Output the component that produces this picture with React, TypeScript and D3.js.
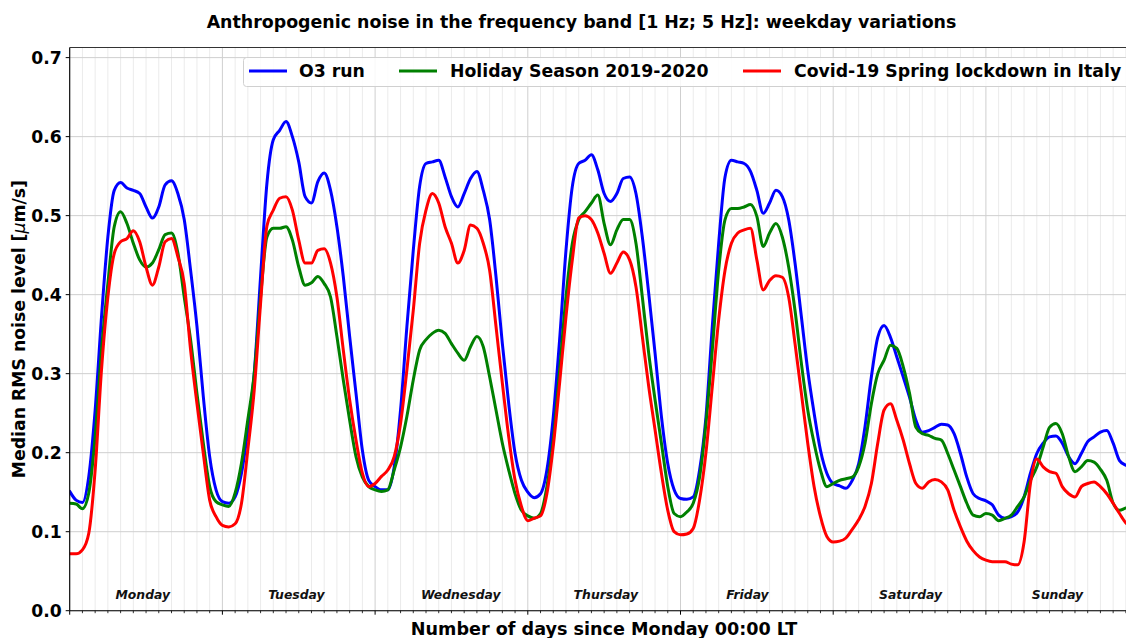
import React from "react";
import * as d3 from "d3";

const dayNames = ["Monday", "Tuesday", "Wednesday", "Thursday", "Friday", "Saturday", "Sunday"];
const yTicks = [0.0, 0.1, 0.2, 0.3, 0.4, 0.5, 0.6, 0.7];
const seriesNames = ["O3 run", "Holiday Season 2019-2020", "Covid-19 Spring lockdown in Italy"];

// hourly values, hour 0..168 since Monday 00:00
const o3Run = [
  0.151, 0.140, 0.137, 0.170, 0.254, 0.372, 0.473, 0.532, 0.542, 0.535, 0.532, 0.528,
  0.511, 0.497, 0.511, 0.539, 0.544, 0.528, 0.495, 0.431, 0.360, 0.271, 0.195, 0.153,
  0.138, 0.136, 0.144, 0.174, 0.229, 0.300, 0.423, 0.541, 0.596, 0.608, 0.619, 0.600,
  0.568, 0.524, 0.516, 0.543, 0.554, 0.532, 0.486, 0.423, 0.347, 0.275, 0.203, 0.165,
  0.157, 0.153, 0.153, 0.182, 0.254, 0.360, 0.456, 0.537, 0.566, 0.568, 0.570, 0.549,
  0.524, 0.511, 0.528, 0.547, 0.556, 0.532, 0.495, 0.423, 0.338, 0.262, 0.199, 0.165,
  0.150, 0.143, 0.148, 0.178, 0.245, 0.343, 0.456, 0.537, 0.566, 0.570, 0.577, 0.558,
  0.528, 0.518, 0.528, 0.547, 0.549, 0.528, 0.473, 0.402, 0.326, 0.246, 0.186, 0.153,
  0.142, 0.141, 0.144, 0.178, 0.245, 0.360, 0.465, 0.549, 0.570, 0.568, 0.566, 0.556,
  0.532, 0.503, 0.516, 0.532, 0.524, 0.495, 0.440, 0.372, 0.304, 0.250, 0.203, 0.174,
  0.161, 0.158, 0.155, 0.165, 0.186, 0.233, 0.296, 0.346, 0.361, 0.346, 0.321, 0.296,
  0.270, 0.241, 0.226, 0.228, 0.232, 0.236, 0.235, 0.224, 0.199, 0.169, 0.148, 0.142,
  0.139, 0.134, 0.121, 0.117, 0.119, 0.125, 0.144, 0.174, 0.199, 0.212, 0.220, 0.221,
  0.212, 0.195, 0.186, 0.199, 0.214, 0.220, 0.226, 0.228, 0.212, 0.190, 0.184, 0.180,
  0.176,
];

const holidaySeason = [
  0.136, 0.135, 0.129, 0.149, 0.220, 0.330, 0.414, 0.486, 0.505, 0.490, 0.465, 0.444,
  0.435, 0.440, 0.457, 0.476, 0.478, 0.453, 0.397, 0.343, 0.275, 0.212, 0.157, 0.138,
  0.134, 0.132, 0.149, 0.187, 0.242, 0.300, 0.397, 0.473, 0.484, 0.484, 0.486, 0.469,
  0.435, 0.412, 0.415, 0.423, 0.414, 0.397, 0.347, 0.292, 0.241, 0.195, 0.169, 0.157,
  0.153, 0.151, 0.153, 0.178, 0.207, 0.246, 0.292, 0.330, 0.343, 0.351, 0.355, 0.351,
  0.338, 0.326, 0.317, 0.334, 0.347, 0.334, 0.296, 0.254, 0.212, 0.178, 0.148, 0.127,
  0.120, 0.117, 0.123, 0.157, 0.216, 0.304, 0.397, 0.465, 0.495, 0.505, 0.516, 0.526,
  0.490, 0.463, 0.482, 0.495, 0.495, 0.465, 0.397, 0.326, 0.267, 0.212, 0.157, 0.123,
  0.119, 0.125, 0.136, 0.169, 0.237, 0.330, 0.431, 0.495, 0.509, 0.509, 0.511, 0.514,
  0.499, 0.461, 0.478, 0.490, 0.473, 0.435, 0.380, 0.313, 0.254, 0.212, 0.178, 0.157,
  0.161, 0.165, 0.167, 0.169, 0.182, 0.212, 0.262, 0.300, 0.317, 0.336, 0.332, 0.309,
  0.275, 0.232, 0.224, 0.222, 0.218, 0.216, 0.199, 0.178, 0.157, 0.136, 0.121, 0.119,
  0.123, 0.121, 0.114, 0.117, 0.121, 0.132, 0.144, 0.165, 0.182, 0.207, 0.232, 0.237,
  0.224, 0.195, 0.176, 0.182, 0.190, 0.188, 0.179, 0.165, 0.136, 0.127, 0.130, 0.131,
  0.131,
];

const covidLockdown = [
  0.072, 0.072, 0.077, 0.098, 0.178, 0.305, 0.397, 0.452, 0.467, 0.471, 0.481, 0.467,
  0.435, 0.412, 0.435, 0.467, 0.471, 0.448, 0.414, 0.330, 0.262, 0.199, 0.140, 0.119,
  0.108, 0.106, 0.110, 0.136, 0.204, 0.279, 0.389, 0.487, 0.507, 0.522, 0.524, 0.507,
  0.469, 0.440, 0.440, 0.456, 0.458, 0.440, 0.397, 0.330, 0.267, 0.216, 0.174, 0.157,
  0.161, 0.170, 0.178, 0.195, 0.237, 0.305, 0.380, 0.465, 0.507, 0.528, 0.516, 0.486,
  0.465, 0.440, 0.456, 0.488, 0.484, 0.465, 0.431, 0.360, 0.288, 0.220, 0.165, 0.132,
  0.114, 0.117, 0.120, 0.148, 0.208, 0.288, 0.372, 0.444, 0.497, 0.500, 0.495, 0.478,
  0.452, 0.427, 0.440, 0.454, 0.444, 0.410, 0.347, 0.284, 0.229, 0.174, 0.127, 0.100,
  0.096, 0.097, 0.104, 0.140, 0.200, 0.284, 0.368, 0.431, 0.465, 0.478, 0.482, 0.484,
  0.444, 0.406, 0.418, 0.424, 0.422, 0.397, 0.338, 0.275, 0.212, 0.157, 0.119, 0.094,
  0.087, 0.088, 0.092, 0.103, 0.115, 0.132, 0.161, 0.212, 0.254, 0.262, 0.241, 0.216,
  0.186, 0.161, 0.155, 0.163, 0.166, 0.163, 0.153, 0.127, 0.106, 0.088, 0.076, 0.068,
  0.064, 0.062, 0.062, 0.062, 0.059, 0.058, 0.087, 0.161, 0.192, 0.182, 0.176, 0.174,
  0.157, 0.148, 0.144, 0.157, 0.161, 0.163, 0.157, 0.148, 0.136, 0.123, 0.111, 0.105,
  0.100,
];

const seriesData = [o3Run, holidaySeason, covidLockdown];
const colors = ["#0000ff", "#008000", "#ff0000"];

const W = 1126;
const H = 638;
const left = 69.7;
const right = 1138.6;
const top = 47.5;
const bottom = 610.7;

export default function App() {
  const x = d3.scaleLinear().domain([0, 7]).range([left, right]);
  const y = d3.scaleLinear().domain([0, 0.7128]).range([bottom, top]);

  const line = d3
    .line<number>()
    .x((_, i) => x(i / 24))
    .y((d) => y(d))
    .curve(d3.curveMonotoneX);

  const minorTicks = d3.range(0, 7 * 12 + 1).map((i) => i / 12).filter((v) => Math.abs(v - Math.round(v)) > 1e-6);
  const majorTicks = d3.range(0, 8);
  const font = "'DejaVu Sans', sans-serif";

  const legendItems = [
    { x1: 249, x2: 287, tx: 299 },
    { x1: 399, x2: 437, tx: 450 },
    { x1: 743, x2: 781, tx: 794 },
  ];

  return (
    <svg width={W} height={H} style={{ position: "absolute", left: 0, top: 0, background: "#fff" }} fontFamily={font}>
      <defs>
        <clipPath id="plotclip">
          <rect x={left} y={top} width={right - left} height={bottom - top} />
        </clipPath>
      </defs>
      <rect x={0} y={0} width={W} height={H} fill="#fff" />
      {/* minor vertical grid */}
      {minorTicks.map((t, i) => (
        <line key={"mg" + i} x1={x(t)} x2={x(t)} y1={top} y2={bottom} stroke="#ebebeb" strokeWidth={1} />
      ))}
      {/* major grid */}
      {majorTicks.map((t) => (
        <line key={"Mg" + t} x1={x(t)} x2={x(t)} y1={top} y2={bottom} stroke="#cfcfcf" strokeWidth={1} />
      ))}
      {yTicks.map((t) => (
        <line key={"yg" + t} x1={left} x2={right} y1={y(t)} y2={y(t)} stroke="#cfcfcf" strokeWidth={1} />
      ))}
      {/* series */}
      <g clipPath="url(#plotclip)">
        {seriesData.map((s, i) => (
          <path key={"s" + i} d={line(s) || ""} fill="none" stroke={colors[i]} strokeWidth={3} strokeLinejoin="round" strokeLinecap="round" />
        ))}
      </g>
      {/* day labels */}
      {dayNames.map((d, i) => (
        <text key={d} x={x(i + 0.3)} y={598.5} fontSize={12.4} fontWeight="bold" fontStyle="italic" fill="#111">
          {d}
        </text>
      ))}
      {/* spines */}
      <line x1={left} x2={left} y1={top} y2={bottom} stroke="#000" strokeWidth={1.1} />
      <line x1={left} x2={right} y1={bottom} y2={bottom} stroke="#000" strokeWidth={1.1} />
      <line x1={left} x2={right} y1={top} y2={top} stroke="#333" strokeWidth={1} />
      {/* x ticks */}
      {majorTicks.map((t) => (
        <line key={"xt" + t} x1={x(t)} x2={x(t)} y1={bottom} y2={bottom + 4} stroke="#000" strokeWidth={1} />
      ))}
      {minorTicks.map((t, i) => (
        <line key={"xmt" + i} x1={x(t)} x2={x(t)} y1={bottom} y2={bottom + 2.5} stroke="#000" strokeWidth={0.8} />
      ))}
      {/* y ticks */}
      {yTicks.map((t) => (
        <g key={"yt" + t}>
          <line x1={left - 4} x2={left} y1={y(t)} y2={y(t)} stroke="#000" strokeWidth={1} />
          <text x={left - 8} y={y(t)} dy="0.36em" textAnchor="end" fontSize={17.2} fontWeight="bold" fill="#000">
            {t.toFixed(1)}
          </text>
        </g>
      ))}
      {/* legend */}
      <rect x={243.5} y={57.5} width={900} height={29} rx={3} fill="#fff" fillOpacity={0.85} stroke="#d0d0d0" strokeWidth={1} />
      {legendItems.map((li, i) => (
        <g key={"lg" + i}>
          <line x1={li.x1} x2={li.x2} y1={71} y2={71} stroke={colors[i]} strokeWidth={3} />
          <text x={li.tx} y={71} dy="0.36em" fontSize={17.3} fontWeight="bold" fill="#000">
            {seriesNames[i]}
          </text>
        </g>
      ))}
      {/* title */}
      <text x={581.5} y={28} textAnchor="middle" fontSize={17.4} fontWeight="bold" fill="#000">
        Anthropogenic noise in the frequency band [1 Hz; 5 Hz]: weekday variations
      </text>
      {/* x label */}
      <text x={604} y={635} textAnchor="middle" fontSize={17.6} fontWeight="bold" fill="#000">
        Number of days since Monday 00:00 LT
      </text>
      {/* y label */}
      <text transform={`translate(25, ${(top + bottom) / 2}) rotate(-90)`} textAnchor="middle" fontSize={17.3} fontWeight="bold" fill="#000">
        Median RMS noise level [<tspan fontStyle="italic" fontWeight="normal">μ</tspan>m/s]
      </text>
    </svg>
  );
}
